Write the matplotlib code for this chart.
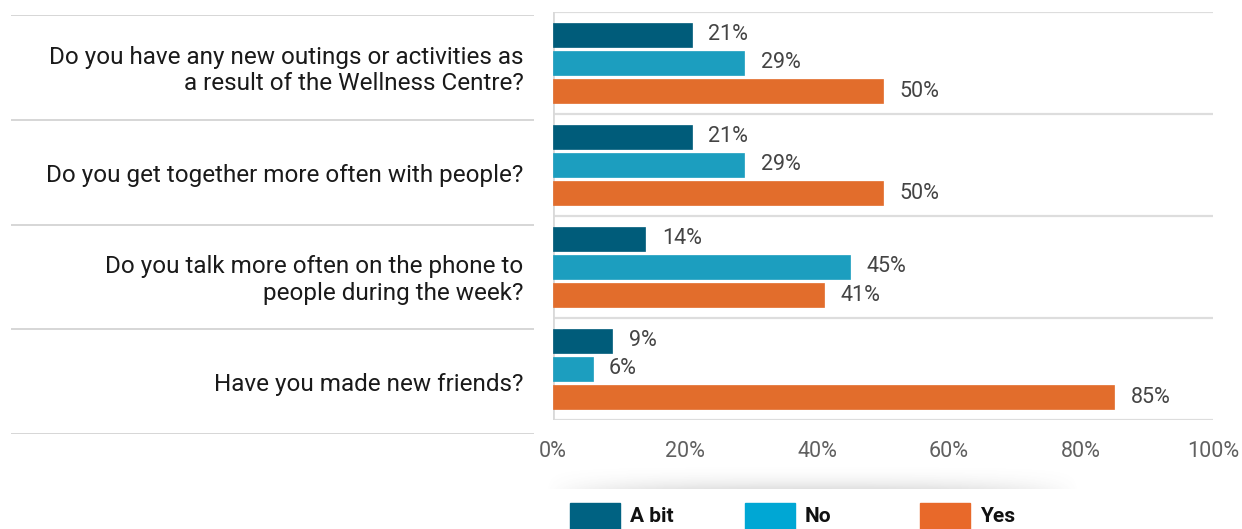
import numpy as np
import matplotlib
matplotlib.use("Agg")
import matplotlib.pyplot as plt
from matplotlib.patches import Rectangle

plt.rcParams['font.family'] = ['Roboto', 'DejaVu Sans']

# data
questions = [
    "Do you have any new outings or activities as\na result of the Wellness Centre?",
    "Do you get together more often with people?",
    "Do you talk more often on the phone to\npeople during the week?",
    "Have you made new friends?",
]
series = ["A bit", "No", "Yes"]
a_bit = [21, 21, 14, 9]
no = [29, 29, 45, 6]
yes = [50, 50, 41, 85]
xticks = [0, 20, 40, 60, 80, 100]

bar_colors = ["#005c7a", "#1c9ebf", "#e26d2c"]
leg_colors = ["#006282", "#00a7d4", "#e8692a"]

W, H = 1242, 529
fig = plt.figure(figsize=(W / 100, H / 100), dpi=100)

def fx(px):
    return px / W

def fy(py):
    return 1 - py / H

# soft shadow under the tick labels
sax = fig.add_axes([fx(545), fy(489), fx(1080) - fx(545), fy(462) - fy(489)])
gx = np.linspace(-1, 1, 300)
gy = np.linspace(0, 1, 40)
side = np.clip(1 - np.abs(gx) ** 3, 0, 1)
down = gy ** 2.5
alpha = np.outer(down, side) * 0.18
img = np.zeros((40, 300, 4))
img[..., :3] = 0.35
img[..., 3] = alpha
sax.imshow(img, aspect="auto", extent=[0, 1, 1, 0], interpolation="bilinear")
sax.axis("off")

# main bar axes
ax = fig.add_axes([fx(553), fy(420), fx(1213) - fx(553), fy(12) - fy(420)])
y = np.arange(len(questions))
offs = [-0.275, 0, 0.275]
for vals, off, col in zip([a_bit, no, yes], offs, bar_colors):
    bars = ax.barh(y + off, vals, height=0.235, color=col, edgecolor=col, linewidth=0.5)
    for b, v in zip(bars, vals):
        ax.text(v + 2.5, b.get_y() + b.get_height() / 2, f"{v}%", va="center", ha="left",
                fontsize=15.5, color="#444444")

ax.set_xlim(0, 100)
ax.set_ylim(len(questions) - 0.5, -0.5)
for yy in np.arange(len(questions) + 1) - 0.5:
    ax.axhline(yy, color="#dddddd", lw=1.6, zorder=0)
for s in ax.spines.values():
    s.set_visible(False)
ax.axvline(0, color="#d9d9d9", lw=2, zorder=0)
ax.set_yticks([])
ax.set_xticks(xticks)
ax.set_xticklabels([f"{t}%" for t in xticks], fontsize=15.5, color="#606060")
ax.tick_params(axis="x", length=0, pad=15)

# label table on the left
lax = fig.add_axes([fx(11), fy(434), fx(534) - fx(11), fy(15) - fy(434)])
lax.set_xlim(0, 1)
lax.set_ylim(len(questions) - 0.5, -0.5)
for yy in np.arange(len(questions) + 1) - 0.5:
    lax.axhline(yy, color="#d6d6d6", lw=1.4)
for i, q in enumerate(questions):
    lax.text(0.98, i + 0.03, q, ha="right", va="center", fontsize=17.5, color="#1a1a1a",
             linespacing=1.22)
lax.axis("off")

# legend
for i, (name, col) in enumerate(zip(series, leg_colors)):
    x0 = 570 + 175 * i
    fig.patches.append(Rectangle((fx(x0), fy(535)), fx(50), fy(503) - fy(535),
                                 transform=fig.transFigure, color=col, clip_on=False))
    fig.text(fx(x0 + 60), fy(517), name, fontsize=15, fontweight="bold",
             color="#111111", va="center", ha="left")

fig.savefig("out.png", dpi=100)
